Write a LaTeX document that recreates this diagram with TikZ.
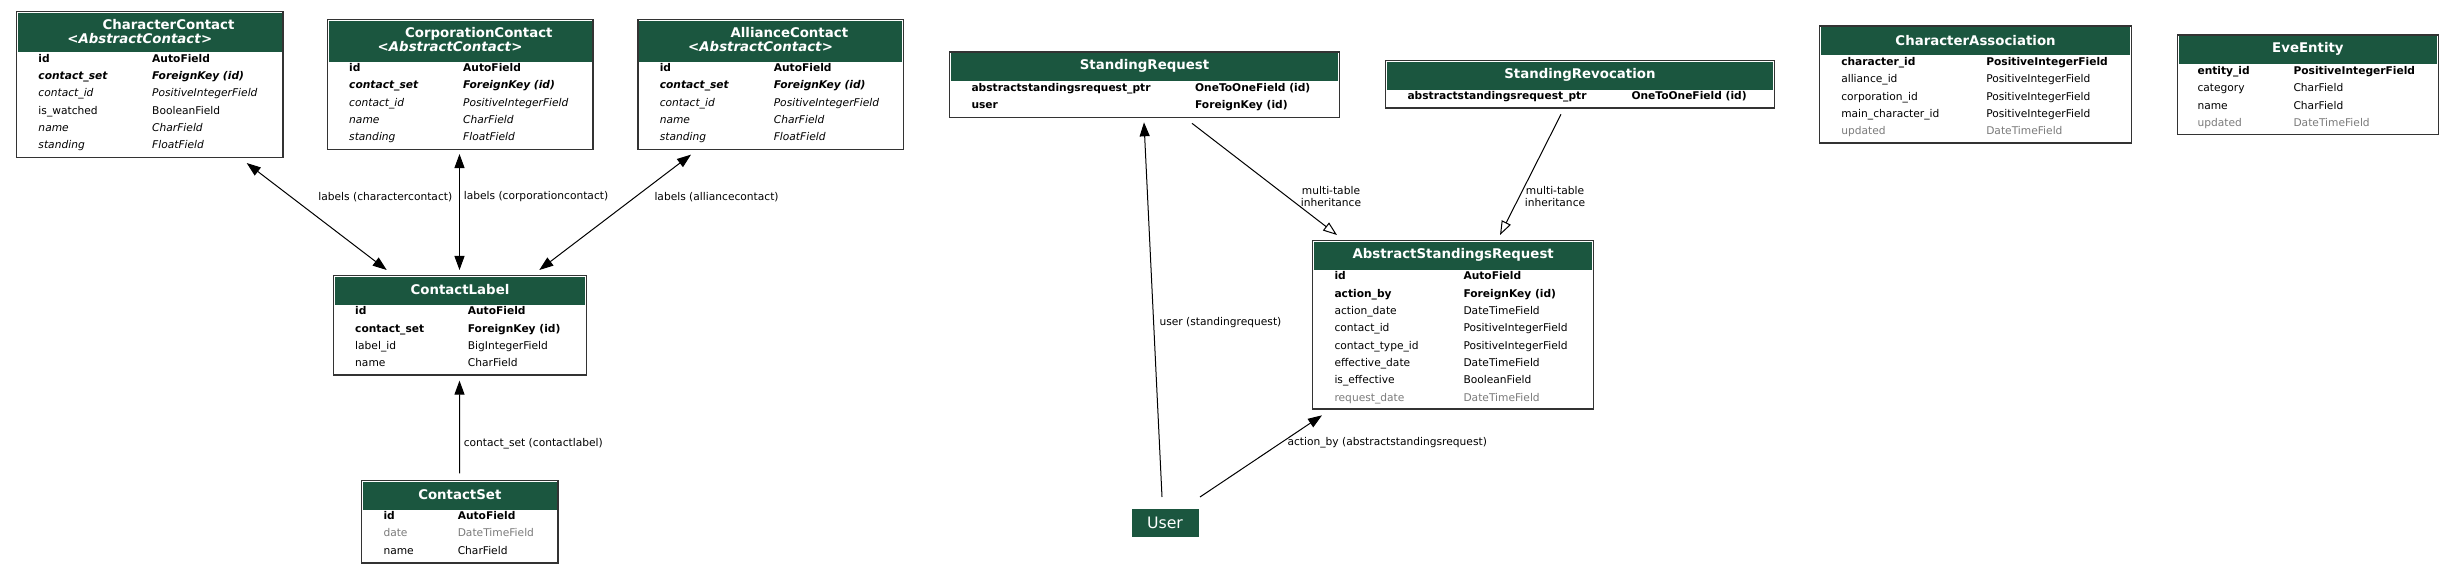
\documentclass[tikz,border=0pt]{standalone}
\usepackage{fontspec}
\setmainfont{DejaVu Sans}
\usepackage{xcolor}
\usetikzlibrary{arrows.meta, calc, positioning}
\definecolor{hdrgreen}{HTML}{1B563F}
\definecolor{fieldgray}{HTML}{7B7B7B}
\newcommand{\fieldtab}[2]{\begin{tabular}{@{}p{#1}@{}l@{}}#2\end{tabular}}
\newcommand{\gr}[1]{\textcolor{fieldgray}{#1}}
\newcommand{\bi}[1]{\textbf{\textit{#1}}}
\tikzset{
  model/.style n args={3}{draw=black!80, line width=1pt, fill=white, anchor=north west, inner sep=0,
    minimum width=#1*0.75pt, minimum height=#2*0.75pt,
    path picture={\fill[hdrgreen] ([shift={(1.2,1.2)}]path picture bounding box.north west)
      rectangle ([shift={(-1.2,#3)}]path picture bounding box.north east);}},
  hdrtext/.style={text=white, font=\fontsize{10}{10.5}\selectfont\bfseries, align=center, inner sep=0},
  fields/.style={anchor=north west, inner sep=0, font=\fontsize{8}{13}\selectfont},
  lbl/.style={font=\fontsize{8}{9}\selectfont, align=center, inner sep=0},
  inh/.style={-{Triangle[open, length=10.5pt, width=7.5pt]}},
}

\begin{document}
\begin{tikzpicture}[x=0.75pt, y=-0.75pt, line width=0.75pt, >={Triangle[length=10.5pt, width=7.5pt]}]
        \path[use as bounding box, fill=white] (0,0) rectangle (2456,573);

        % Contact models
        \node[model={266.3}{146.3}{41}] (cc) at (16,10.7) {};
        \node[hdrtext] (ccT) at ($(cc.north)+(0,20.5)$) {\hspace*{28pt}CharacterContact\\<\textit{AbstractContact}>\hspace*{15pt}};
        \node[fields] (ccF) at ($(cc.north west)+(22,39)$) {\fieldtab{85.3pt}{%
            \textbf{id} & \textbf{AutoField}\\
            \bi{contact\_set} & \bi{ForeignKey (id)}\\
            \textit{contact\_id} & \textit{PositiveIntegerField}\\
            is\_watched & BooleanField\\
            \textit{name} & \textit{CharField}\\
            \textit{standing} & \textit{FloatField}}};

        \node[model={265.6}{130}{42}] (pc) at (326.7,19) {};
        \node[hdrtext] (pcT) at ($(pc.north)+(0,21)$) {\hspace*{28pt}CorporationContact\\<\textit{AbstractContact}>\hspace*{15pt}};
        \node[fields] (pcF) at ($(pc.north west)+(22,40)$) {\fieldtab{85.5pt}{%
            \textbf{id} & \textbf{AutoField}\\
            \bi{contact\_set} & \bi{ForeignKey (id)}\\
            \textit{contact\_id} & \textit{PositiveIntegerField}\\
            \textit{name} & \textit{CharField}\\
            \textit{standing} & \textit{FloatField}}};

        \node[model={265.4}{130}{42}] (ac) at (637.3,19) {};
        \node[hdrtext] (acT) at ($(ac.north)+(0,21)$) {\hspace*{28pt}AllianceContact\\<\textit{AbstractContact}>\hspace*{15pt}};
        \node[fields] (acF) at ($(ac.north west)+(22,40)$) {\fieldtab{85.5pt}{%
            \textbf{id} & \textbf{AutoField}\\
            \bi{contact\_set} & \bi{ForeignKey (id)}\\
            \textit{contact\_id} & \textit{PositiveIntegerField}\\
            \textit{name} & \textit{CharField}\\
            \textit{standing} & \textit{FloatField}}};

        \node[model={253.3}{99.3}{29.3}] (cl) at (332.7,275) {};
        \node[hdrtext] (clT) at ($(cl.north)+(0,14.6)$) {ContactLabel};
        \node[fields] (clF) at ($(cl.north west)+(22,27.3)$) {\fieldtab{84.5pt}{%
            \textbf{id} & \textbf{AutoField}\\
            \textbf{contact\_set} & \textbf{ForeignKey (id)}\\
            label\_id & BigIntegerField\\
            name & CharField}};

        \node[model={196.3}{82.6}{29.3}] (cs) at (361,479.7) {};
        \node[hdrtext] (csT) at ($(cs.north)+(0,14.6)$) {ContactSet};
        \node[fields] (csF) at ($(cs.north west)+(22,27.3)$) {\fieldtab{55.7pt}{%
            \textbf{id} & \textbf{AutoField}\\
            \gr{date} & \gr{DateTimeField}\\
            name & CharField}};

        % Standing models
        \node[model={389.7}{65.4}{29.3}] (sr) at (949,51.3) {};
        \node[hdrtext] (srT) at ($(sr.north)+(0,14.6)$) {StandingRequest};
        \node[fields] (srF) at ($(sr.north west)+(22,27.3)$) {\fieldtab{167.7pt}{%
            \textbf{abstractstandingsrequest\_ptr} & \textbf{OneToOneField (id)}\\
            \textbf{user} & \textbf{ForeignKey (id)}}};

        \node[model={388.5}{47.5}{29.3}] (rv) at (1385,60) {};
        \node[hdrtext] (rvT) at ($(rv.north)+(0,14.6)$) {StandingRevocation};
        \node[fields] (rvF) at ($(rv.north west)+(22,27.3)$) {\fieldtab{168pt}{%
            \textbf{abstractstandingsrequest\_ptr} & \textbf{OneToOneField (id)}}};

        \node[model={281}{168.5}{29.3}] (asr) at (1312,240) {};
        \node[hdrtext] (asrT) at ($(asr.north)+(0,14.6)$) {AbstractStandingsRequest};
        \node[fields] (asrF) at ($(asr.north west)+(22,27.3)$) {\fieldtab{96.75pt}{%
            \textbf{id} & \textbf{AutoField}\\
            \textbf{action\_by} & \textbf{ForeignKey (id)}\\
            action\_date & DateTimeField\\
            contact\_id & PositiveIntegerField\\
            contact\_type\_id & PositiveIntegerField\\
            effective\_date & DateTimeField\\
            is\_effective & BooleanField\\
            \gr{request\_date} & \gr{DateTimeField}}};

        % Other models
        \node[model={312.25}{116.7}{29.3}] (ca) at (1818.75,25.5) {};
        \node[hdrtext] (caT) at ($(ca.north)+(0,14.6)$) {CharacterAssociation};
        \node[fields] (caF) at ($(ca.north west)+(22,27.3)$) {\fieldtab{108.75pt}{%
            \textbf{character\_id} & \textbf{PositiveIntegerField}\\
            alliance\_id & PositiveIntegerField\\
            corporation\_id & PositiveIntegerField\\
            main\_character\_id & PositiveIntegerField\\
            \gr{updated} & \gr{DateTimeField}}};

        \node[model={260.5}{99.5}{29.3}] (ee) at (2177,34.5) {};
        \node[hdrtext] (eeT) at ($(ee.north)+(0,14.6)$) {EveEntity};
        \node[fields] (eeF) at ($(ee.north west)+(20,27.3)$) {\fieldtab{72pt}{%
            \textbf{entity\_id} & \textbf{PositiveIntegerField}\\
            category & CharField\\
            name & CharField\\
            \gr{updated} & \gr{DateTimeField}}};

        \node[fill=hdrgreen, text=white, anchor=north west, inner sep=0, minimum width=67*0.75pt,
            minimum height=28*0.75pt, font=\fontsize{11.8}{14}\selectfont] (usr) at (1131,508) {User};

        % Relations
        \draw[<->] ($(cc.south west)+(230.7,4.7)$) -- ($(cl.north west)+(54,-5)$);
        \draw[<->] ($(pc.south west)+(132.8,3.7)$) -- ($(cl.north west)+(126.8,-5)$);
        \draw[<->] ($(ac.south west)+(53.7,4.3)$) -- ($(cl.north west)+(206.6,-5)$);
        \draw[->] ($(cs.north west)+(98.5,-6.4)$) -- ($(cl.south west)+(126.8,5)$);
        \draw[->] ($(usr.north west)+(31,-11)$) -- ($(sr.south west)+(195,4.3)$);
        \draw[->] ($(usr.north west)+(69,-11)$) -- ($(asr.south west)+(10,5.5)$);
        \draw[inh] ($(sr.south west)+(243,5.3)$) -- ($(asr.north west)+(25,-5)$);
        \draw[inh] ($(rv.south west)+(176,5.5)$) -- ($(asr.north west)+(188,-5)$);

        % Edge labels
        \node[lbl, anchor=east] (l1) at (452.7,196.7) {labels (charactercontact)};
        \node[lbl, anchor=west] (l2) at (463.3,196.7) {labels (corporationcontact)};
        \node[lbl, anchor=west] (l3) at (654,196.7) {labels (alliancecontact)};
        \node[lbl, anchor=west] (l4) at (463.3,443.3) {contact\_set (contactlabel)};
        \node[lbl, anchor=west] (l5) at (1159,323) {user (standingrequest)};
        \node[lbl, anchor=west] (l6) at (1287,443) {action\_by (abstractstandingsrequest)};
        \node[lbl] (l7) at (1331,196.7) {multi-table\\inheritance};
        \node[lbl] (l8) at (1555,196.7) {multi-table\\inheritance};
    \end{tikzpicture}
\end{document}
